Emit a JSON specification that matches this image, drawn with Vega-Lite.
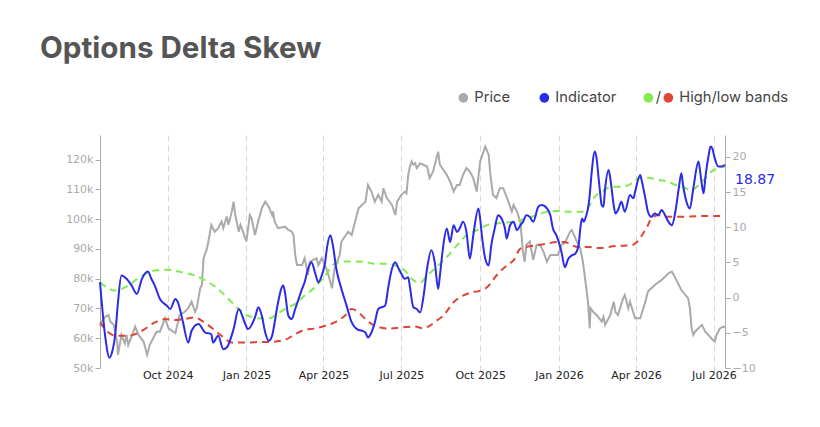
{
  "$schema": "https://vega.github.io/schema/vega-lite/v6.json",
  "width": 625,
  "height": 233,
  "autosize": {"type": "none"},
  "padding": {"left": 100, "top": 135, "right": 95, "bottom": 59},
  "background": "white",
  "config": {"view": {"stroke": null}},
  "title": {"text": "Options Delta Skew", "anchor": "start", "frame": "group", "font": "Inter", "fontSize": 29.6, "fontWeight": 700, "color": "#555555", "dx": -60, "offset": 25},
  "datasets": {
    "price": [
      {"d":"2024-07-14","v":63900},{"d":"2024-07-16","v":65600},{"d":"2024-07-20","v":67200},{"d":"2024-07-24","v":67800},{"d":"2024-07-26","v":65600},{"d":"2024-07-30","v":64500},{"d":"2024-08-03","v":58800},{"d":"2024-08-04","v":54400},{"d":"2024-08-08","v":61100},{"d":"2024-08-12","v":58300},{"d":"2024-08-14","v":61100},{"d":"2024-08-16","v":57700},{"d":"2024-08-22","v":62200},{"d":"2024-08-24","v":63900},{"d":"2024-08-28","v":61100},{"d":"2024-09-03","v":58800},{"d":"2024-09-07","v":54400},{"d":"2024-09-10","v":57700},{"d":"2024-09-18","v":62200},{"d":"2024-09-22","v":62200},{"d":"2024-09-28","v":66700},{"d":"2024-10-02","v":63300},{"d":"2024-10-10","v":61700},{"d":"2024-10-15","v":67800},{"d":"2024-10-21","v":68900},{"d":"2024-10-25","v":70100},{"d":"2024-10-29","v":72300},{"d":"2024-11-02","v":68900},{"d":"2024-11-04","v":70100},{"d":"2024-11-08","v":76800},{"d":"2024-11-10","v":77900},{"d":"2024-11-12","v":86900},{"d":"2024-11-16","v":90200},{"d":"2024-11-19","v":94700},{"d":"2024-11-21","v":98100},{"d":"2024-11-25","v":95800},{"d":"2024-11-29","v":97000},{"d":"2024-12-03","v":99200},{"d":"2024-12-05","v":97000},{"d":"2024-12-09","v":100900},{"d":"2024-12-11","v":98100},{"d":"2024-12-15","v":102600},{"d":"2024-12-17","v":105900},{"d":"2024-12-19","v":101400},{"d":"2024-12-23","v":95800},{"d":"2024-12-25","v":98100},{"d":"2024-12-28","v":95800},{"d":"2025-01-01","v":92500},{"d":"2025-01-05","v":101400},{"d":"2025-01-07","v":100300},{"d":"2025-01-11","v":94700},{"d":"2025-01-15","v":99500},{"d":"2025-01-19","v":103700},{"d":"2025-01-23","v":105900},{"d":"2025-01-27","v":104200},{"d":"2025-01-31","v":101400},{"d":"2025-02-01","v":102600},{"d":"2025-02-03","v":99200},{"d":"2025-02-07","v":97000},{"d":"2025-02-15","v":97500},{"d":"2025-02-19","v":96400},{"d":"2025-02-23","v":95800},{"d":"2025-02-25","v":94700},{"d":"2025-02-27","v":88000},{"d":"2025-03-01","v":84600},{"d":"2025-03-07","v":84600},{"d":"2025-03-10","v":86900},{"d":"2025-03-14","v":81300},{"d":"2025-03-16","v":85700},{"d":"2025-03-24","v":86900},{"d":"2025-03-26","v":84600},{"d":"2025-03-30","v":86900},{"d":"2025-04-05","v":83000},{"d":"2025-04-09","v":79000},{"d":"2025-04-11","v":76800},{"d":"2025-04-14","v":83500},{"d":"2025-04-20","v":88000},{"d":"2025-04-22","v":92500},{"d":"2025-04-30","v":95800},{"d":"2025-05-04","v":94700},{"d":"2025-05-08","v":99200},{"d":"2025-05-12","v":103700},{"d":"2025-05-20","v":105900},{"d":"2025-05-23","v":111500},{"d":"2025-05-27","v":109300},{"d":"2025-05-31","v":105900},{"d":"2025-06-04","v":108200},{"d":"2025-06-08","v":105900},{"d":"2025-06-10","v":110400},{"d":"2025-06-14","v":107100},{"d":"2025-06-20","v":104800},{"d":"2025-06-24","v":101400},{"d":"2025-06-26","v":105900},{"d":"2025-07-01","v":108200},{"d":"2025-07-05","v":109300},{"d":"2025-07-07","v":108700},{"d":"2025-07-09","v":114900},{"d":"2025-07-11","v":117700},{"d":"2025-07-13","v":119400},{"d":"2025-07-15","v":118300},{"d":"2025-07-17","v":118800},{"d":"2025-07-19","v":117200},{"d":"2025-07-23","v":118800},{"d":"2025-07-31","v":117700},{"d":"2025-08-03","v":113800},{"d":"2025-08-07","v":116000},{"d":"2025-08-13","v":122700},{"d":"2025-08-15","v":118300},{"d":"2025-08-23","v":114900},{"d":"2025-08-27","v":112600},{"d":"2025-08-31","v":109300},{"d":"2025-09-04","v":111500},{"d":"2025-09-07","v":111500},{"d":"2025-09-11","v":114900},{"d":"2025-09-15","v":117200},{"d":"2025-09-19","v":116000},{"d":"2025-09-23","v":113800},{"d":"2025-09-27","v":109300},{"d":"2025-10-01","v":119400},{"d":"2025-10-07","v":124400},{"d":"2025-10-11","v":121600},{"d":"2025-10-13","v":114900},{"d":"2025-10-16","v":108200},{"d":"2025-10-20","v":107100},{"d":"2025-10-24","v":110400},{"d":"2025-10-28","v":110400},{"d":"2025-11-03","v":105900},{"d":"2025-11-07","v":102600},{"d":"2025-11-09","v":104800},{"d":"2025-11-13","v":102600},{"d":"2025-11-17","v":99200},{"d":"2025-11-20","v":89100},{"d":"2025-11-22","v":85700},{"d":"2025-11-24","v":91400},{"d":"2025-11-28","v":92500},{"d":"2025-12-02","v":86300},{"d":"2025-12-06","v":91400},{"d":"2025-12-10","v":91400},{"d":"2025-12-14","v":89100},{"d":"2025-12-18","v":85700},{"d":"2025-12-22","v":88000},{"d":"2025-12-31","v":88000},{"d":"2026-01-04","v":91400},{"d":"2026-01-08","v":92000},{"d":"2026-01-14","v":95800},{"d":"2026-01-16","v":96400},{"d":"2026-01-22","v":92500},{"d":"2026-01-26","v":90200},{"d":"2026-01-29","v":85700},{"d":"2026-01-31","v":81300},{"d":"2026-02-02","v":76800},{"d":"2026-02-04","v":72300},{"d":"2026-02-06","v":63300},{"d":"2026-02-07","v":70100},{"d":"2026-02-10","v":68900},{"d":"2026-02-14","v":67800},{"d":"2026-02-20","v":65600},{"d":"2026-02-22","v":67200},{"d":"2026-02-24","v":64500},{"d":"2026-03-02","v":67800},{"d":"2026-03-06","v":72300},{"d":"2026-03-08","v":68900},{"d":"2026-03-11","v":67800},{"d":"2026-03-17","v":73400},{"d":"2026-03-19","v":74500},{"d":"2026-03-23","v":70100},{"d":"2026-03-25","v":72300},{"d":"2026-03-31","v":66700},{"d":"2026-04-06","v":66700},{"d":"2026-04-12","v":72300},{"d":"2026-04-15","v":75700},{"d":"2026-04-19","v":76800},{"d":"2026-04-23","v":77900},{"d":"2026-05-01","v":79600},{"d":"2026-05-09","v":81800},{"d":"2026-05-13","v":82400},{"d":"2026-05-17","v":80200},{"d":"2026-05-24","v":76200},{"d":"2026-06-01","v":73400},{"d":"2026-06-03","v":70100},{"d":"2026-06-05","v":63300},{"d":"2026-06-07","v":61100},{"d":"2026-06-09","v":62200},{"d":"2026-06-17","v":64500},{"d":"2026-06-21","v":62200},{"d":"2026-06-28","v":60000},{"d":"2026-07-02","v":58800},{"d":"2026-07-04","v":61100},{"d":"2026-07-08","v":63300},{"d":"2026-07-12","v":63900},{"d":"2026-07-14","v":63600}
    ],
    "indicator": [
      {"d":"2024-07-14","v":2.19},{"d":"2024-07-20","v":-5.43},{"d":"2024-07-25","v":-8.53},{"d":"2024-07-28","v":-7.81},{"d":"2024-08-01","v":-4.96},{"d":"2024-08-04","v":-0.67},{"d":"2024-08-08","v":3.14},{"d":"2024-08-14","v":2.67},{"d":"2024-08-20","v":1.71},{"d":"2024-08-26","v":0.53},{"d":"2024-09-01","v":2.67},{"d":"2024-09-08","v":3.71},{"d":"2024-09-12","v":2.67},{"d":"2024-09-16","v":1.71},{"d":"2024-09-22","v":-0.19},{"d":"2024-09-30","v":-1.14},{"d":"2024-10-04","v":-1.62},{"d":"2024-10-10","v":-0.19},{"d":"2024-10-13","v":-0.67},{"d":"2024-10-19","v":-3.53},{"d":"2024-10-25","v":-6.39},{"d":"2024-10-29","v":-4.71},{"d":"2024-11-06","v":-3.76},{"d":"2024-11-14","v":-4.96},{"d":"2024-11-21","v":-5.19},{"d":"2024-11-23","v":-6.39},{"d":"2024-11-29","v":-5.43},{"d":"2024-12-05","v":-7.33},{"d":"2024-12-09","v":-7.1},{"d":"2024-12-17","v":-4.47},{"d":"2024-12-23","v":-1.62},{"d":"2024-12-30","v":-3.53},{"d":"2025-01-03","v":-4.47},{"d":"2025-01-11","v":-2.8},{"d":"2025-01-15","v":-1.38},{"d":"2025-01-19","v":-2.57},{"d":"2025-01-23","v":-4.96},{"d":"2025-01-27","v":-6.14},{"d":"2025-01-31","v":-5.43},{"d":"2025-02-03","v":-3.53},{"d":"2025-02-07","v":-0.67},{"d":"2025-02-13","v":1.71},{"d":"2025-02-15","v":0.76},{"d":"2025-02-19","v":-2.57},{"d":"2025-02-23","v":-3.05},{"d":"2025-02-27","v":-1.62},{"d":"2025-03-03","v":-0.19},{"d":"2025-03-07","v":1.24},{"d":"2025-03-10","v":2.19},{"d":"2025-03-14","v":4.1},{"d":"2025-03-18","v":5.04},{"d":"2025-03-22","v":3.62},{"d":"2025-03-26","v":2.19},{"d":"2025-03-30","v":3.14},{"d":"2025-04-03","v":5.04},{"d":"2025-04-05","v":6.96},{"d":"2025-04-09","v":8.86},{"d":"2025-04-12","v":7.43},{"d":"2025-04-16","v":4.1},{"d":"2025-04-22","v":1.24},{"d":"2025-04-28","v":-1.14},{"d":"2025-05-04","v":-3.53},{"d":"2025-05-10","v":-4.47},{"d":"2025-05-16","v":-4.71},{"d":"2025-05-20","v":-4.96},{"d":"2025-05-23","v":-5.67},{"d":"2025-05-27","v":-4.96},{"d":"2025-05-31","v":-3.53},{"d":"2025-06-04","v":-1.62},{"d":"2025-06-12","v":-1.14},{"d":"2025-06-16","v":1.71},{"d":"2025-06-20","v":4.1},{"d":"2025-06-24","v":5.04},{"d":"2025-06-27","v":4.33},{"d":"2025-07-01","v":3.38},{"d":"2025-07-05","v":2.67},{"d":"2025-07-09","v":2.9},{"d":"2025-07-11","v":1.5},{"d":"2025-07-15","v":-1.38},{"d":"2025-07-19","v":-1.62},{"d":"2025-07-23","v":-2.1},{"d":"2025-07-27","v":0.29},{"d":"2025-07-31","v":4.1},{"d":"2025-08-05","v":6.71},{"d":"2025-08-09","v":5.04},{"d":"2025-08-13","v":1.24},{"d":"2025-08-15","v":3.14},{"d":"2025-08-19","v":7.43},{"d":"2025-08-23","v":9.81},{"d":"2025-08-27","v":7.9},{"d":"2025-08-31","v":10.29},{"d":"2025-09-04","v":9.33},{"d":"2025-09-07","v":9.81},{"d":"2025-09-11","v":10.76},{"d":"2025-09-15","v":9.33},{"d":"2025-09-19","v":5.53},{"d":"2025-09-23","v":8.86},{"d":"2025-09-29","v":12.67},{"d":"2025-10-01","v":11.24},{"d":"2025-10-03","v":8.86},{"d":"2025-10-07","v":5.53},{"d":"2025-10-11","v":4.57},{"d":"2025-10-14","v":7.43},{"d":"2025-10-18","v":9.81},{"d":"2025-10-22","v":11.71},{"d":"2025-10-26","v":11.24},{"d":"2025-10-30","v":9.81},{"d":"2025-11-01","v":8.39},{"d":"2025-11-05","v":10.29},{"d":"2025-11-09","v":10.76},{"d":"2025-11-13","v":9.57},{"d":"2025-11-17","v":10.29},{"d":"2025-11-20","v":10.76},{"d":"2025-11-24","v":11.71},{"d":"2025-11-28","v":11.47},{"d":"2025-12-02","v":10.76},{"d":"2025-12-08","v":12.9},{"d":"2025-12-12","v":13.14},{"d":"2025-12-18","v":12.67},{"d":"2025-12-22","v":11.71},{"d":"2025-12-25","v":9.81},{"d":"2025-12-29","v":8.86},{"d":"2026-01-04","v":6.47},{"d":"2026-01-08","v":4.33},{"d":"2026-01-12","v":5.53},{"d":"2026-01-16","v":6.0},{"d":"2026-01-20","v":6.24},{"d":"2026-01-24","v":7.43},{"d":"2026-01-26","v":9.81},{"d":"2026-01-28","v":11.24},{"d":"2026-01-30","v":10.76},{"d":"2026-02-02","v":11.71},{"d":"2026-02-04","v":12.67},{"d":"2026-02-06","v":14.57},{"d":"2026-02-08","v":17.43},{"d":"2026-02-12","v":20.76},{"d":"2026-02-14","v":19.81},{"d":"2026-02-16","v":17.43},{"d":"2026-02-18","v":15.04},{"d":"2026-02-20","v":13.14},{"d":"2026-02-22","v":12.9},{"d":"2026-02-24","v":15.53},{"d":"2026-02-28","v":18.14},{"d":"2026-03-02","v":16.96},{"d":"2026-03-04","v":15.04},{"d":"2026-03-06","v":13.14},{"d":"2026-03-08","v":11.96},{"d":"2026-03-11","v":12.43},{"d":"2026-03-15","v":13.61},{"d":"2026-03-19","v":12.19},{"d":"2026-03-25","v":14.57},{"d":"2026-03-29","v":14.1},{"d":"2026-03-31","v":15.04},{"d":"2026-04-06","v":17.43},{"d":"2026-04-08","v":16.47},{"d":"2026-04-12","v":14.1},{"d":"2026-04-15","v":12.19},{"d":"2026-04-19","v":11.47},{"d":"2026-04-23","v":11.96},{"d":"2026-04-27","v":11.71},{"d":"2026-05-01","v":12.43},{"d":"2026-05-05","v":11.71},{"d":"2026-05-09","v":10.76},{"d":"2026-05-13","v":10.29},{"d":"2026-05-17","v":12.19},{"d":"2026-05-21","v":15.53},{"d":"2026-05-24","v":17.67},{"d":"2026-05-26","v":16.0},{"d":"2026-05-30","v":13.61},{"d":"2026-06-03","v":12.67},{"d":"2026-06-07","v":15.53},{"d":"2026-06-13","v":19.33},{"d":"2026-06-15","v":17.9},{"d":"2026-06-17","v":16.0},{"d":"2026-06-19","v":14.81},{"d":"2026-06-21","v":16.96},{"d":"2026-06-25","v":20.29},{"d":"2026-06-27","v":21.47},{"d":"2026-06-29","v":21.24},{"d":"2026-07-02","v":19.81},{"d":"2026-07-06","v":18.61},{"d":"2026-07-10","v":18.61},{"d":"2026-07-14","v":18.87}
    ],
    "high": [
      {"d":"2024-07-14","v":2.19},{"d":"2024-08-01","v":1.0},{"d":"2024-08-16","v":1.71},{"d":"2024-09-01","v":3.14},{"d":"2024-09-16","v":3.86},{"d":"2024-09-30","v":3.95},{"d":"2024-10-17","v":3.62},{"d":"2024-11-02","v":3.14},{"d":"2024-11-14","v":2.43},{"d":"2024-11-29","v":1.24},{"d":"2024-12-11","v":-0.19},{"d":"2024-12-23","v":-1.62},{"d":"2025-01-03","v":-2.57},{"d":"2025-01-17","v":-2.96},{"d":"2025-01-29","v":-2.9},{"d":"2025-02-03","v":-2.57},{"d":"2025-02-15","v":-1.62},{"d":"2025-02-27","v":-0.9},{"d":"2025-03-10","v":0.29},{"d":"2025-03-22","v":1.47},{"d":"2025-04-03","v":3.14},{"d":"2025-04-14","v":4.81},{"d":"2025-04-26","v":5.14},{"d":"2025-05-08","v":5.14},{"d":"2025-05-20","v":5.04},{"d":"2025-05-31","v":4.81},{"d":"2025-06-12","v":4.81},{"d":"2025-06-24","v":4.57},{"d":"2025-07-05","v":3.86},{"d":"2025-07-13","v":2.67},{"d":"2025-07-23","v":2.1},{"d":"2025-07-31","v":3.14},{"d":"2025-08-11","v":4.33},{"d":"2025-08-23","v":5.76},{"d":"2025-09-04","v":7.43},{"d":"2025-09-15","v":8.86},{"d":"2025-09-27","v":9.57},{"d":"2025-10-09","v":10.29},{"d":"2025-10-20","v":10.53},{"d":"2025-11-01","v":10.67},{"d":"2025-11-13","v":10.86},{"d":"2025-11-24","v":11.24},{"d":"2025-12-06","v":11.71},{"d":"2025-12-18","v":12.19},{"d":"2025-12-29","v":12.29},{"d":"2026-01-14","v":12.19},{"d":"2026-01-31","v":12.19},{"d":"2026-02-06","v":13.14},{"d":"2026-02-12","v":14.33},{"d":"2026-02-20","v":15.04},{"d":"2026-03-04","v":15.76},{"d":"2026-03-15","v":15.76},{"d":"2026-03-27","v":16.24},{"d":"2026-04-04","v":16.96},{"d":"2026-04-15","v":17.04},{"d":"2026-04-27","v":16.71},{"d":"2026-05-09","v":16.47},{"d":"2026-05-17","v":16.0},{"d":"2026-05-29","v":15.53},{"d":"2026-06-05","v":15.29},{"d":"2026-06-13","v":16.0},{"d":"2026-06-21","v":16.96},{"d":"2026-06-28","v":17.9},{"d":"2026-07-06","v":18.39},{"d":"2026-07-14","v":18.61}
    ],
    "low": [
      {"d":"2024-07-14","v":-3.53},{"d":"2024-07-24","v":-4.96},{"d":"2024-08-01","v":-5.43},{"d":"2024-08-16","v":-5.43},{"d":"2024-09-01","v":-4.71},{"d":"2024-09-16","v":-3.53},{"d":"2024-09-28","v":-3.05},{"d":"2024-10-10","v":-3.19},{"d":"2024-10-21","v":-3.05},{"d":"2024-11-02","v":-2.81},{"d":"2024-11-10","v":-3.29},{"d":"2024-11-21","v":-4.24},{"d":"2024-12-03","v":-5.43},{"d":"2024-12-15","v":-6.39},{"d":"2025-01-03","v":-6.39},{"d":"2025-01-17","v":-6.29},{"d":"2025-01-27","v":-6.29},{"d":"2025-02-15","v":-6.0},{"d":"2025-02-27","v":-5.19},{"d":"2025-03-10","v":-4.57},{"d":"2025-03-22","v":-4.39},{"d":"2025-04-03","v":-4.0},{"d":"2025-04-14","v":-3.53},{"d":"2025-04-26","v":-2.57},{"d":"2025-05-04","v":-1.62},{"d":"2025-05-12","v":-2.1},{"d":"2025-05-20","v":-3.05},{"d":"2025-05-31","v":-4.0},{"d":"2025-06-16","v":-4.39},{"d":"2025-07-01","v":-4.24},{"d":"2025-07-17","v":-4.1},{"d":"2025-07-27","v":-4.39},{"d":"2025-08-03","v":-4.0},{"d":"2025-08-11","v":-3.29},{"d":"2025-08-19","v":-2.57},{"d":"2025-08-31","v":-0.67},{"d":"2025-09-11","v":0.29},{"d":"2025-09-19","v":0.67},{"d":"2025-10-01","v":1.0},{"d":"2025-10-09","v":1.47},{"d":"2025-10-20","v":3.14},{"d":"2025-11-01","v":4.57},{"d":"2025-11-09","v":5.29},{"d":"2025-11-17","v":6.96},{"d":"2025-11-24","v":7.19},{"d":"2025-12-06","v":7.43},{"d":"2025-12-18","v":7.67},{"d":"2025-12-29","v":7.9},{"d":"2026-01-08","v":7.9},{"d":"2026-01-16","v":7.43},{"d":"2026-01-24","v":7.19},{"d":"2026-02-04","v":7.19},{"d":"2026-02-16","v":7.04},{"d":"2026-03-08","v":7.33},{"d":"2026-03-27","v":7.43},{"d":"2026-04-02","v":7.9},{"d":"2026-04-08","v":8.86},{"d":"2026-04-14","v":10.04},{"d":"2026-04-19","v":11.24},{"d":"2026-04-27","v":11.71},{"d":"2026-05-05","v":11.47},{"d":"2026-05-21","v":11.47},{"d":"2026-06-13","v":11.57},{"d":"2026-07-14","v":11.61}
    ],
    "last": [{"d":"2026-07-14","v":18.87}]
  },
  "encoding": {
    "x": {
      "field": "d", "type": "temporal",
      "scale": {"type": "utc", "domain": [{"year":2024,"month":7,"date":14,"utc":true},{"year":2026,"month":7,"date":14,"utc":true}]},
      "axis": {
        "title": null, "format": "%b %Y", "domain": false, "ticks": true, "tickSize": 4, "tickColor": "#d6d6d6", "labelPadding": -3,
        "labelFont": "DejaVu Sans", "labelFontSize": 11, "labelColor": "#222222", "labelFlush": false,
        "grid": true, "gridColor": "#d6d6d6", "gridDash": [6,4], "gridWidth": 1,
        "values": [{"year":2024,"month":10,"date":1,"utc":true},{"year":2025,"month":1,"date":1,"utc":true},{"year":2025,"month":4,"date":1,"utc":true},{"year":2025,"month":7,"date":1,"utc":true},{"year":2025,"month":10,"date":1,"utc":true},{"year":2026,"month":1,"date":1,"utc":true},{"year":2026,"month":4,"date":1,"utc":true},{"year":2026,"month":7,"date":1,"utc":true}]
      }
    }
  },
  "layer": [
    {
      "data": {"name": "price"},
      "mark": {"type": "line", "strokeWidth": 2, "interpolate": "linear"},
      "encoding": {
        "y": {"field": "v", "type": "quantitative", "scale": {"domain": [50000, 128300], "nice": false, "zero": false},
          "axis": {"orient": "left", "title": null, "grid": false, "values": [50000,60000,70000,80000,90000,100000,110000,120000], "format": "~s",
            "domainColor": "#aaaaaa", "tickColor": "#aaaaaa", "tickSize": 5, "labelColor": "#aaaaaa", "labelFont": "DejaVu Sans", "labelFontSize": 11, "labelPadding": 2}},
        "color": {"datum": "Price", "type": "nominal",
          "scale": {"domain": ["Price","Indicator","High","Low"], "range": ["#aaaaaa","#2b2be8","#80ec50","#de4537"]},
          "legend": {
            "orient": "none", "legendX": 356, "legendY": -45, "direction": "horizontal", "title": null,
            "symbolType": "circle", "symbolSize": 95, "symbolStrokeWidth": 0,
            "labelFont": "Inter", "labelFontSize": 14.7, "labelColor": "#444444", "labelOffset": 0, "columnPadding": 0,
            "labelExpr": "datum.label == 'Price' ? '\u200b\u2005Price\u2003\u2002\u2004\u200b' : datum.label == 'Indicator' ? '\u200b\u2005Indicator\u2003\u2002\u2006\u200b' : datum.label == 'High' ? '/' : '\u200b\u2005High/low bands'",
            "encode": {"symbols": {"update": {"fill": {"signal": "scale('color', datum.value)"}, "stroke": {"value": "transparent"}}}}
          }
        }
      }
    },
    {
      "encoding": {
        "y": {"field": "v", "type": "quantitative", "scale": {"domain": [-10, 23.1], "nice": false, "zero": false},
          "axis": {"orient": "right", "title": null, "grid": false, "values": [-10,-5,0,5,10,15,20], "format": "d",
            "domainColor": "#aaaaaa", "tickColor": "#aaaaaa", "tickSize": 5, "labelColor": "#aaaaaa", "labelFont": "DejaVu Sans", "labelFontSize": 11, "labelPadding": 2}}
      },
      "layer": [
        {
          "data": {"name": "low"},
          "mark": {"type": "line", "strokeWidth": 2, "strokeDash": [7,5], "interpolate": "monotone"},
          "encoding": {"color": {"datum": "Low", "type": "nominal"}}
        },
        {
          "data": {"name": "high"},
          "mark": {"type": "line", "strokeWidth": 2, "strokeDash": [7,5], "interpolate": "monotone"},
          "encoding": {"color": {"datum": "High", "type": "nominal"}}
        },
        {
          "data": {"name": "indicator"},
          "mark": {"type": "line", "strokeWidth": 2, "interpolate": "monotone"},
          "encoding": {"color": {"datum": "Indicator", "type": "nominal"}}
        },
        {
          "data": {"name": "last"},
          "mark": {"type": "text", "align": "left", "baseline": "middle", "dx": 10, "dy": 15, "font": "DejaVu Sans", "fontSize": 14, "color": "#2b2be8"},
          "encoding": {"text": {"field": "v", "type": "quantitative", "format": ".2f"}}
        }
      ]
    }
  ],
  "resolve": {"scale": {"y": "independent"}}
}
